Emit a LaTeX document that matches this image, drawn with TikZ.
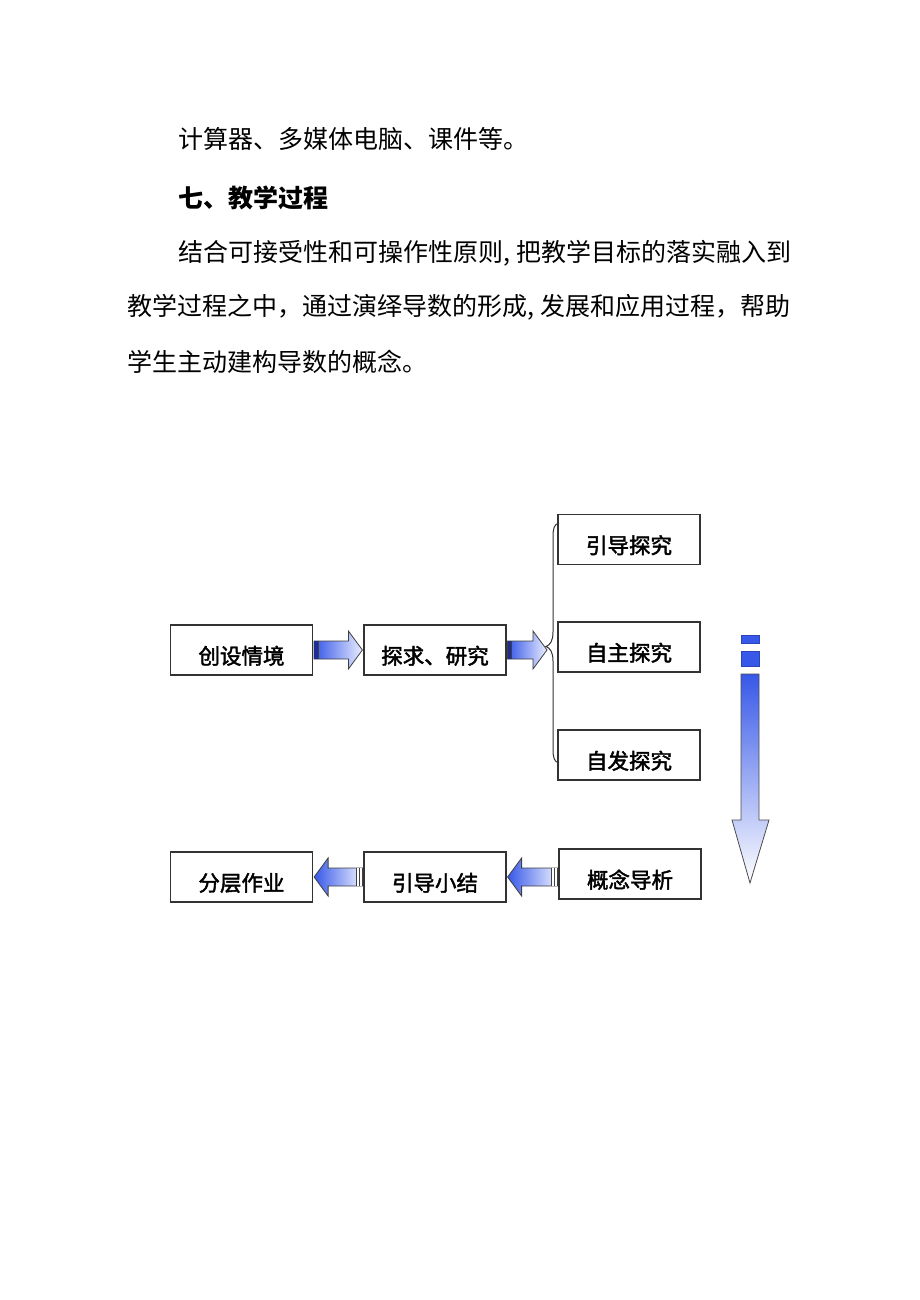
\documentclass[tikz,border=0pt]{standalone}
\usepackage{fontspec}
\newfontfamily\cjk{Noto Sans CJK SC}
\newfontfamily\cjkm[FakeBold=2]{Noto Sans CJK SC}
\usetikzlibrary{calc}
\definecolor{bdark}{RGB}{55,88,232}
\definecolor{blight}{RGB}{232,237,255}
\definecolor{bnavy}{RGB}{30,45,150}
\tikzset{
  box/.style={draw=black!80, line width=1.2pt, minimum width=142pt, minimum height=50pt,
    inner sep=0pt, text height=28pt, text depth=0pt,
    font=\cjkm\fontsize{21.5pt}{22pt}\selectfont},
  body/.style={anchor=base west, inner sep=0pt, font=\cjk\fontsize{25pt}{25pt}\selectfont},
  head/.style={body, font=\cjk\bfseries\fontsize{25pt}{25pt}\selectfont},
  blockarrow/.style={draw=black!75, line width=0.8pt, left color=bdark, right color=blight},
  stripe/.style={draw=black!75, line width=0.8pt},
  bracesty/.style={draw=black!80, line width=1pt},
}
\newcommand\RArrow[2]{%
  \path[blockarrow] ($(#1)+(1,-9)$) -- ($(#2)+(-15,-9)$) -- ($(#2)+(-15,-19)$)
    -- ($(#2)+(-1,0)$) -- ($(#2)+(-15,19)$) -- ($(#2)+(-15,9)$) -- ($(#1)+(1,9)$) -- cycle;
  \fill[bnavy] ($(#1)+(1,-9)$) rectangle ($(#1)+(5,9)$);
  \draw[stripe] ($(#1)+(5,-9)$) -- ($(#1)+(5,9)$);
}
\newcommand\LArrow[2]{%
  \path[blockarrow] ($(#1)+(-1,-9)$) -- ($(#2)+(15,-9)$) -- ($(#2)+(15,-19)$)
    -- ($(#2)+(1,0)$) -- ($(#2)+(15,19)$) -- ($(#2)+(15,9)$) -- ($(#1)+(-1,9)$) -- cycle;
  \fill[white] ($(#1)+(-7,-9)$) rectangle ($(#1)+(-1,9)$);
  \draw[stripe] ($(#1)+(-7,-9)$) -- ($(#1)+(-7,9)$);
  \draw[stripe] ($(#1)+(-4,-9)$) -- ($(#1)+(-4,9)$);
}
\begin{document}
\begin{tikzpicture}[x=1pt, y=-1pt]
\fill[white] (0,0) rectangle (920,1300);
\useasboundingbox (0,0) rectangle (920,1300);

% text
\node[body] (l1) at (178,148.5) {计算器、多媒体电脑、课件等。};
\node[head] (l2) at (178,207.5) {七、教学过程};
\node[body] (l3) at (178,261.5) {结合可接受性和可操作性原则,\kern0.25em把教学目标的落实融入到};
\node[body] (l4) at (127,315.5) {教学过程之中，通过演绎导数的形成,\kern0.25em发展和应用过程，帮助};
\node[body] (l5) at (127,371.5) {学生主动建构导数的概念。};

% boxes
\node[box] (b1) at (241.5,650) {创设情境};
\node[box] (b2) at (435,650) {探求、研究};
\node[box] (b3) at (629,539.5) {引导探究};
\node[box] (b4) at (629,647) {自主探究};
\node[box] (b5) at (629,755) {自发探究};
\node[box] (b6) at (630,874) {概念导析};
\node[box] (b7) at (435,877) {引导小结};
\node[box] (b8) at (241.5,877) {分层作业};

% brace
\coordinate (bc) at (548,650);
\draw[bracesty] (559,523) .. controls (554,524) and (553,529) .. (553,537)
  -- (553,632) .. controls (553,641) and (550,645) .. (546,646.5)
  .. controls (550,648) and (553,652) .. (553,661)
  -- (553,749) .. controls (553,757) and (554,762) .. (559,763);

% horizontal block arrows
\RArrow{b1.east}{b2.west}
\RArrow{b2.east}{bc}
\coordinate (t6) at (b6.west |- b7.east);
\LArrow{t6}{b7.east}
\LArrow{b7.west}{b8.east}

% vertical arrow
\fill[bdark, draw=bdark!80!black, line width=0.4pt] (741,635) rectangle (759,643);
\fill[bdark, draw=bdark!80!black, line width=0.4pt] (741,651) rectangle (759,666);
\path[draw=black!70, line width=0.8pt, top color=bdark, bottom color=white]
  (741,674) -- (741,820) -- (732,820) -- (750,883) -- (769,820) -- (759,820) -- (759,674) -- cycle;
\end{tikzpicture}
\end{document}
